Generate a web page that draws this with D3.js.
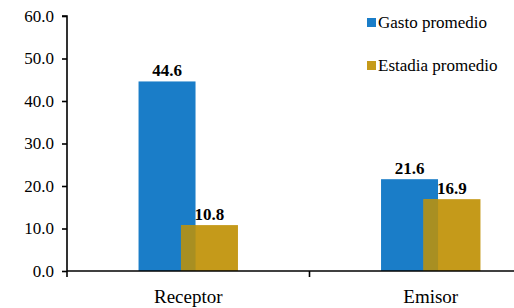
<!DOCTYPE html>
<html>
<head>
<meta charset="utf-8">
<script src="https://cdn.jsdelivr.net/npm/d3@7"></script>
<style>
  html body svg text { font-family: "Times New Roman", "Liberation Serif", Tinos, serif !important; }
</style>
</head>
<body style="margin:0">
<script>
const categories = ["Receptor", "Emisor"];
const seriesNames = ["Gasto promedio", "Estadia promedio"];
const gastoValues = [44.6, 21.6];
const estadiaValues = [10.8, 16.9];
const yTicks = [0, 10, 20, 30, 40, 50, 60];
const colors = ["#1a7dc8", "#c59a1a"];
const overlapColor = "#a88f22";
const FONT = "Times New Roman";

const width = 514, height = 308;
const margin = {top: 16, right: -38, bottom: 37, left: 67};

const svg = d3.select("body")
  .append("svg")
    .attr("width", width)
    .attr("height", height)
    .attr("font-family", FONT);

const x = d3.scaleBand()
  .domain(categories)
  .range([margin.left, width - margin.right]);

const y = d3.scaleLinear()
  .domain([0, 60])
  .range([height - margin.bottom, margin.top]);

const band = x.bandwidth();
const barW = band * 0.235;
const offset = band * 0.0875;
const barX = (c, s) => x(c) + band / 2 + (s === 0 ? -offset : offset) - barW / 2;

// y axis
const yAxis = d3.axisLeft(y)
  .tickValues(yTicks)
  .tickFormat(d3.format(".1f"))
  .tickSize(5)
  .tickPadding(8);

svg.append("g")
  .attr("transform", `translate(${margin.left}, 0)`)
  .call(yAxis)
  .attr("font-family", FONT)
  .attr("font-size", 17)
  .call(g => g.select(".domain").attr("stroke-width", 1.6).attr("d", `M-5,${y(60)}H0V${y(0)}`))
  .call(g => g.selectAll(".tick line").attr("stroke-width", 1.6))
  .call(g => g.selectAll(".tick text").attr("fill", "#000"));

// bars
const series = [gastoValues, estadiaValues];
series.forEach((vals, s) => {
  svg.append("g")
    .selectAll("rect")
    .data(categories)
    .join("rect")
      .attr("x", c => barX(c, s))
      .attr("y", (c, i) => y(vals[i]))
      .attr("width", barW)
      .attr("height", (c, i) => y(0) - y(vals[i]))
      .attr("fill", colors[s]);
});

// where the gold bar sits over the blue one, blue shows through
svg.append("g")
  .selectAll("rect")
  .data(categories)
  .join("rect")
    .attr("x", c => barX(c, 1))
    .attr("y", (c, i) => y(Math.min(gastoValues[i], estadiaValues[i])))
    .attr("width", c => barX(c, 0) + barW - barX(c, 1))
    .attr("height", (c, i) => y(0) - y(Math.min(gastoValues[i], estadiaValues[i])))
    .attr("fill", overlapColor);

// value labels
series.forEach((vals, s) => {
  svg.append("g")
    .selectAll("text")
    .data(categories)
    .join("text")
      .attr("x", c => barX(c, s) + barW / 2)
      .attr("y", (c, i) => y(vals[i]) - 5)
      .attr("text-anchor", "middle")
      .attr("font-size", 17)
      .attr("font-weight", "bold")
      .text((c, i) => d3.format(".1f")(vals[i]));
});

// x axis
const xAxisG = svg.append("g")
  .attr("transform", `translate(0, ${y(0)})`);

xAxisG.append("line")
  .attr("x1", margin.left)
  .attr("x2", width)
  .attr("stroke", "#000")
  .attr("stroke-width", 1.6);

xAxisG.selectAll("line.tick")
  .data(categories)
  .join("line")
    .attr("class", "tick")
    .attr("x1", c => x(c))
    .attr("x2", c => x(c))
    .attr("y1", 0)
    .attr("y2", 6)
    .attr("stroke", "#000")
    .attr("stroke-width", 1.6);

xAxisG.selectAll("text")
  .data(categories)
  .join("text")
    .attr("x", c => x(c) + band / 2)
    .attr("y", 32)
    .attr("text-anchor", "middle")
    .attr("font-size", 19)
    .text(c => c);

// legend
const legend = svg.append("g")
  .attr("transform", "translate(367, 18)");

legend.selectAll("g")
  .data(seriesNames)
  .join("g")
    .attr("transform", (d, i) => `translate(0, ${i * 43})`)
    .call(g => g.append("rect")
      .attr("width", 9)
      .attr("height", 9)
      .attr("fill", (d, i) => colors[i]))
    .call(g => g.append("text")
      .attr("x", 11)
      .attr("y", 10)
      .attr("font-size", 17)
      .text(d => d));

svg.selectAll("text")
  .attr("font-family", FONT)
  .attr("fill", "#000");
</script>
</body>
</html>
